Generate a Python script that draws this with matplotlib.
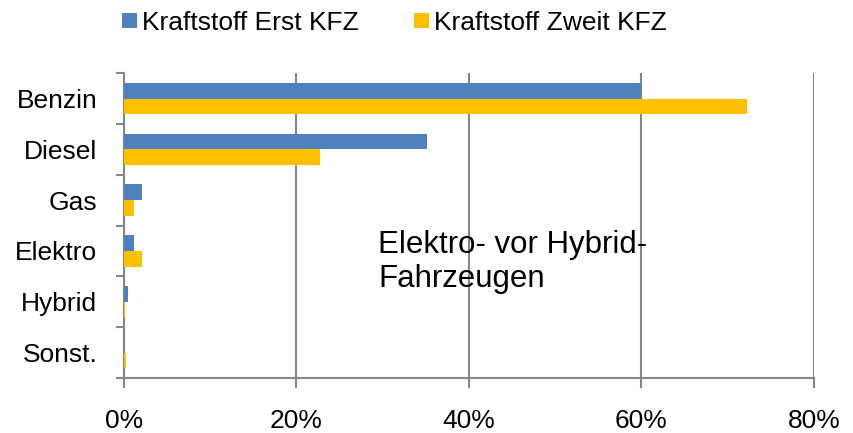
import matplotlib
matplotlib.use("Agg")
import matplotlib.pyplot as plt
import numpy as np
from matplotlib.patches import Patch

plt.rcParams['font.family'] = ['Liberation Sans', 'DejaVu Sans']

categories = ["Benzin", "Diesel", "Gas", "Elektro", "Hybrid", "Sonst."]
erst_kfz = [60.0, 35.1, 2.1, 1.2, 0.5, 0.05]
zweit_kfz = [72.3, 22.8, 1.2, 2.1, 0.1, 0.3]
series_names = ["Kraftstoff Erst KFZ", "Kraftstoff Zweit KFZ"]
x_ticks = [0, 20, 40, 60, 80]
x_labels = ["0%", "20%", "40%", "60%", "80%"]
annotation = "Elektro- vor Hybrid-\nFahrzeugen"

blue = "#4F81BD"
yellow = "#FFC000"
grey = "#868686"

fig = plt.figure(figsize=(8.54, 4.33), dpi=100)
ax = fig.add_axes([0.145, 0.127, 0.808, 0.704])

y = np.arange(len(categories))
h = 0.31
ax.barh(y - h / 2, erst_kfz, height=h, color=blue, zorder=3)
ax.barh(y + h / 2, zweit_kfz, height=h, color=yellow, zorder=3)

ax.set_ylim(len(categories) - 0.5, -0.5)
ax.set_xlim(0, 80)
ax.set_yticks(y)
ax.set_yticklabels(categories, fontsize=19)
ax.set_yticks(np.arange(-0.5, len(categories) + 0.5, 1), minor=True)
ax.tick_params(axis='y', which='major', length=0, pad=19)
ax.tick_params(axis='y', which='minor', length=6, width=1.5, color=grey, direction='out')

ax.set_xticks(x_ticks)
ax.set_xticklabels(x_labels, fontsize=19)
ax.tick_params(axis='x', length=7, width=1.5, color=grey, direction='out', pad=15)
ax.xaxis.grid(True, color=grey, linewidth=1.5, zorder=0)

for s in ['top', 'right']:
    ax.spines[s].set_visible(False)
for s in ['left', 'bottom']:
    ax.spines[s].set_color(grey)
    ax.spines[s].set_linewidth(1.5)

ax.text(29.5, 3.22, annotation, fontsize=22.5, va='center', ha='left',
        linespacing=1.2, zorder=4)

handles = [Patch(facecolor=blue, edgecolor='none'), Patch(facecolor=yellow, edgecolor='none')]
fig.legend(handles, series_names, loc='upper center', bbox_to_anchor=(0.462, 1.03),
           ncol=2, frameon=False, fontsize=19, handlelength=0.55, handleheight=0.5,
           handletextpad=0.2, columnspacing=2.1)

fig.savefig("out.png", dpi=100)
